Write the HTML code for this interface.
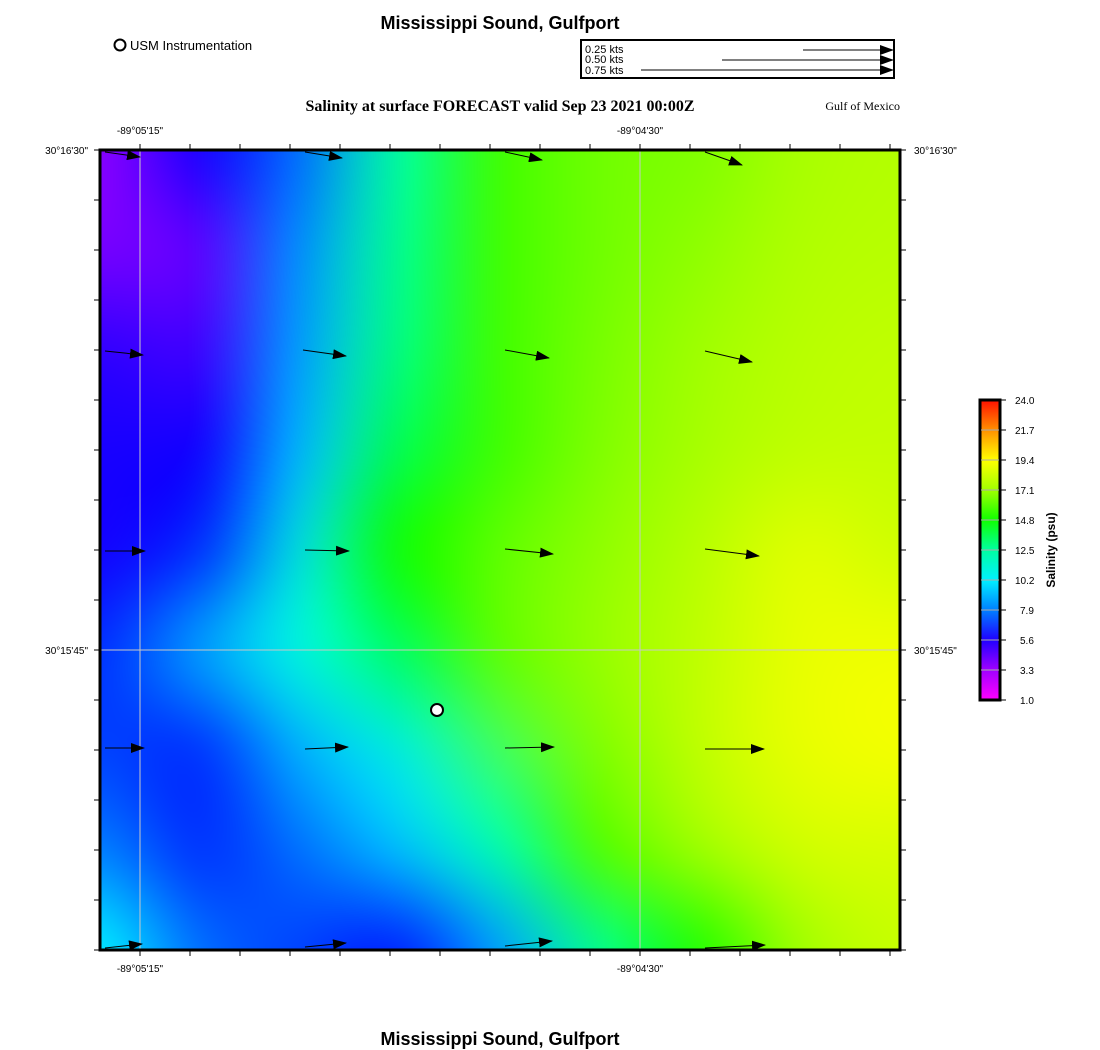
<!DOCTYPE html>
<html><head><meta charset="utf-8"><style>
body{margin:0;background:#fff;}
svg{display:block;font-family:"Liberation Sans",sans-serif;}
#wrap{position:relative;width:1100px;height:1050px;}
#cv{position:absolute;left:100px;top:150px;width:800px;height:800px;}
#ov{position:absolute;left:0;top:0;}
</style></head><body>
<div id="wrap">
<svg width="1100" height="1050" viewBox="0 0 1100 1050" xmlns="http://www.w3.org/2000/svg" style="position:absolute;left:0;top:0">
<defs>
<filter id="bl" filterUnits="userSpaceOnUse" x="-100" y="-100" width="1300" height="1300"><feGaussianBlur stdDeviation="36"/></filter>
<clipPath id="cp"><rect x="100" y="150" width="800" height="800"/></clipPath>
</defs>
<g clip-path="url(#cp)">
<rect x="100" y="150" width="800" height="800" fill="#60ff00"/>
<g filter="url(#bl)">
<rect x="0" y="50" width="150" height="150" fill="#8c00ff"/><rect x="150" y="50" width="100" height="150" fill="#2000ff"/><rect x="250" y="50" width="100" height="150" fill="#0090ff"/><rect x="350" y="50" width="100" height="150" fill="#00ffa0"/><rect x="450" y="50" width="550" height="150" fill="#80ff00"/>
<rect x="0" y="200" width="250" height="300" fill="#4000ff"/><rect x="250" y="200" width="100" height="300" fill="#00a0ff"/><rect x="350" y="200" width="100" height="300" fill="#00ff80"/><rect x="450" y="200" width="550" height="300" fill="#90ff00"/>
<rect x="0" y="500" width="250" height="300" fill="#0030ff"/><rect x="250" y="500" width="100" height="300" fill="#00e0e0"/><rect x="350" y="500" width="650" height="300" fill="#a0ff00"/>
<rect x="0" y="800" width="500" height="250" fill="#0050ff"/><rect x="500" y="800" width="500" height="250" fill="#80ff00"/>
</g>
</g>
</svg>
<canvas id="cv" width="800" height="800"></canvas>
<svg id="ov" width="1100" height="1050" viewBox="0 0 1100 1050" xmlns="http://www.w3.org/2000/svg">
<defs>
<marker id="ah" markerWidth="14" markerHeight="10" refX="13" refY="5" orient="auto" markerUnits="userSpaceOnUse"><polygon points="0,0 14,5 0,10" fill="#000"/></marker>
<linearGradient id="cb" x1="0" y1="1" x2="0" y2="0">
<stop offset="0" stop-color="#ff00ff"/><stop offset="0.1" stop-color="#a000ff"/><stop offset="0.2" stop-color="#2000ff"/><stop offset="0.3" stop-color="#0080ff"/><stop offset="0.4" stop-color="#00f0ff"/><stop offset="0.5" stop-color="#00ffa0"/><stop offset="0.6" stop-color="#10ff00"/><stop offset="0.7" stop-color="#a0ff00"/><stop offset="0.8" stop-color="#ffff00"/><stop offset="0.9" stop-color="#ff9000"/><stop offset="1" stop-color="#ff1000"/>
</linearGradient>
</defs>
<text x="500" y="29" font-size="18" font-weight="bold" text-anchor="middle">Mississippi Sound, Gulfport</text>
<circle cx="120" cy="45" r="5.5" fill="#fff" stroke="#000" stroke-width="2"/>
<text x="130" y="50" font-size="13">USM Instrumentation</text>
<rect x="581" y="40" width="313" height="38" fill="#fff" stroke="#000" stroke-width="2"/>
<text x="585" y="53" font-size="11">0.25 kts</text>
<text x="585" y="63" font-size="11">0.50 kts</text>
<text x="585" y="74" font-size="11">0.75 kts</text>
<line x1="803" y1="50" x2="893" y2="50" stroke="#000" marker-end="url(#ah)"/>
<line x1="722" y1="60" x2="893" y2="60" stroke="#000" marker-end="url(#ah)"/>
<line x1="641" y1="70" x2="893" y2="70" stroke="#000" marker-end="url(#ah)"/>
<text x="500" y="111" font-size="16" font-weight="bold" text-anchor="middle" font-family="Liberation Serif,serif">Salinity at surface FORECAST valid Sep 23 2021 00:00Z</text>
<text x="900" y="110" font-size="12" text-anchor="end" font-family="Liberation Serif,serif">Gulf of Mexico</text>
<g stroke="#c8c8c8" stroke-width="1">
<line x1="140" y1="150" x2="140" y2="950"/><line x1="640" y1="150" x2="640" y2="950"/><line x1="100" y1="650" x2="900" y2="650"/>
</g>
<g stroke="#000" stroke-width="1" marker-end="url(#ah)">
<line x1="105" y1="152" x2="140" y2="157"/><line x1="305" y1="152" x2="342" y2="158"/><line x1="505" y1="152" x2="542" y2="160"/><line x1="705" y1="152" x2="742" y2="165"/>
<line x1="105" y1="351" x2="143" y2="355"/><line x1="303" y1="350" x2="346" y2="356"/><line x1="505" y1="350" x2="549" y2="358"/><line x1="705" y1="351" x2="752" y2="362"/>
<line x1="105" y1="551" x2="145" y2="551"/><line x1="305" y1="550" x2="349" y2="551"/><line x1="505" y1="549" x2="553" y2="554"/><line x1="705" y1="549" x2="759" y2="556"/>
<line x1="105" y1="748" x2="144" y2="748"/><line x1="305" y1="749" x2="348" y2="747"/><line x1="505" y1="748" x2="554" y2="747"/><line x1="705" y1="749" x2="764" y2="749"/>
<line x1="105" y1="948" x2="142" y2="944"/><line x1="305" y1="947" x2="346" y2="943"/><line x1="505" y1="946" x2="552" y2="941"/><line x1="705" y1="948" x2="765" y2="945"/>
</g>
<circle cx="437" cy="710" r="6" fill="#fff" stroke="#000" stroke-width="2"/>
<rect x="100" y="150" width="800" height="800" fill="none" stroke="#000" stroke-width="3"/>
<g stroke="#000" stroke-width="1">
<path d="M140 150v-6M190 150v-6M240 150v-6M290 150v-6M340 150v-6M390 150v-6M440 150v-6M490 150v-6M540 150v-6M590 150v-6M640 150v-6M690 150v-6M740 150v-6M790 150v-6M840 150v-6M890 150v-6"/>
<path d="M140 950v6M190 950v6M240 950v6M290 950v6M340 950v6M390 950v6M440 950v6M490 950v6M540 950v6M590 950v6M640 950v6M690 950v6M740 950v6M790 950v6M840 950v6M890 950v6"/>
<path d="M100 150h-6M100 200h-6M100 250h-6M100 300h-6M100 350h-6M100 400h-6M100 450h-6M100 500h-6M100 550h-6M100 600h-6M100 650h-6M100 700h-6M100 750h-6M100 800h-6M100 850h-6M100 900h-6M100 950h-6"/>
<path d="M900 150h6M900 200h6M900 250h6M900 300h6M900 350h6M900 400h6M900 450h6M900 500h6M900 550h6M900 600h6M900 650h6M900 700h6M900 750h6M900 800h6M900 850h6M900 900h6M900 950h6"/>
</g>
<g font-size="10">
<text x="140" y="134" text-anchor="middle">-89°05'15"</text>
<text x="640" y="134" text-anchor="middle">-89°04'30"</text>
<text x="140" y="972" text-anchor="middle">-89°05'15"</text>
<text x="640" y="972" text-anchor="middle">-89°04'30"</text>
<text x="88" y="154" text-anchor="end">30°16'30"</text>
<text x="88" y="654" text-anchor="end">30°15'45"</text>
<text x="914" y="154">30°16'30"</text>
<text x="914" y="654">30°15'45"</text>
</g>
<rect x="980" y="400" width="20" height="300" fill="url(#cb)" stroke="#000" stroke-width="3"/>
<g stroke="#aaa"><path d="M981 430h18M981 460h18M981 490h18M981 520h18M981 550h18M981 580h18M981 610h18M981 640h18M981 670h18"/></g>
<g stroke="#000"><path d="M1000 400h6M1000 430h6M1000 460h6M1000 490h6M1000 520h6M1000 550h6M1000 580h6M1000 610h6M1000 640h6M1000 670h6M1000 700h6"/></g>
<g font-size="10">
<text x="1015" y="404">24.0</text><text x="1015" y="434">21.7</text><text x="1015" y="464">19.4</text><text x="1015" y="494">17.1</text><text x="1015" y="524">14.8</text><text x="1015" y="554">12.5</text><text x="1015" y="584">10.2</text><text x="1020" y="614">7.9</text><text x="1020" y="644">5.6</text><text x="1020" y="674">3.3</text><text x="1020" y="704">1.0</text>
</g>
<text transform="translate(1055,550) rotate(-90)" font-size="12" font-weight="bold" text-anchor="middle">Salinity (psu)</text>
<text x="500" y="1045" font-size="18" font-weight="bold" text-anchor="middle">Mississippi Sound, Gulfport</text>
</svg>
</div>
<script>
(function(){
var G=[
["8c00ff","1800ff","0070ff","00ffa0","40ff00","70ff00","80ff00","a8ff00","b4ff00"],
["7800ff","6000ff","0090ff","00ff90","40ff00","70ff00","90ff00","b0ff00","b8ff00"],
["3000ff","4000ff","00a0ff","00ff80","40ff00","78ff00","a0ff00","b8ff00","c0ff00"],
["1800ff","1000ff","00b8ff","00ff50","40ff00","80ff00","a8ff00","c0ff00","c4ff00"],
["1400ff","0030ff","00e0e0","10ff00","60ff00","90ff00","b8ff00","e0ff00","d0ff00"],
["0030ff","00a0ff","00f8e0","00ff60","60ff00","98ff00","c0ff00","e8ff00","f0ff00"],
["0040ff","0030ff","00b0ff","00f0e0","40ff60","80ff00","c0ff00","e8ff00","f4ff00"],
["0080ff","0030ff","0070ff","00c0ff","00ffb0","50ff00","a0ff00","d0ff00","d8ff00"],
["00f0ff","0070ff","0040ff","0020ff","00a0ff","00ff90","20ff00","a0ff00","c8ff00"]];
var n=9,src=document.createElement('canvas');src.width=n;src.height=n;
var sc=src.getContext('2d'),im=sc.createImageData(n,n);
for(var j=0;j<n;j++)for(var i=0;i<n;i++){var h=G[j][i],k=(j*n+i)*4;
im.data[k]=parseInt(h.substr(0,2),16);im.data[k+1]=parseInt(h.substr(2,2),16);im.data[k+2]=parseInt(h.substr(4,2),16);im.data[k+3]=255;}
sc.putImageData(im,0,0);
var c=document.getElementById('cv').getContext('2d');
c.imageSmoothingEnabled=true;c.imageSmoothingQuality='high';
c.drawImage(src,0,0,n,n,-50,-50,900,900);
})();
</script>
</body></html>
